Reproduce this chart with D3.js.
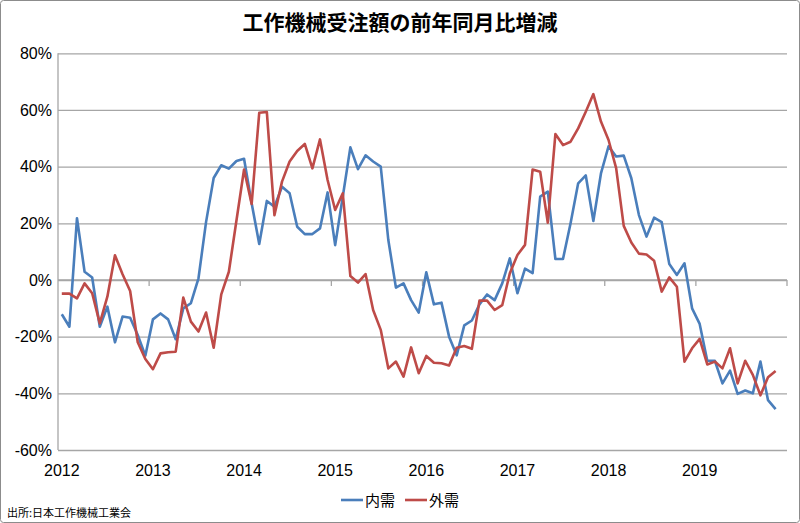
<!DOCTYPE html>
<html><head><meta charset="utf-8">
<script src="https://cdn.jsdelivr.net/npm/d3@7/dist/d3.min.js"></script>
<style>body{margin:0;background:#fff}svg{display:block}</style>
</head><body>
<svg id="c" width="800" height="523"></svg>
<script>
const title = "工作機械受注額の前年同月比増減";
const source = "出所:日本工作機械工業会";
const years = ["2012","2013","2014","2015","2016","2017","2018","2019"];
const yTicks = [-60,-40,-20,0,20,40,60,80];
const seriesNames = ["内需","外需"];
const seriesColors = ["#4a7ebb","#be4b48"];
// Monthly, Jan 2012 – Nov 2019 (% YoY)
const domestic = [-12.1,-16.5,21.8,2.9,0.9,-16.5,-9.4,-22,-12.9,-13.3,-19.4,-26.7,
  -13.9,-11.8,-13.9,-20.9,-10,-8.2,0.6,20.5,36,40.5,39.3,42,
  42.8,27.1,12.7,27.9,25.9,32.9,30.6,18.8,16.2,16.2,18.2,30.9,
  12.3,29.4,46.8,39.1,44,41.8,40,14.1,-2.7,-1.2,-7.1,-11.5,
  2.7,-8.6,-8,-20,-26.6,-16,-14.3,-8.6,-5.1,-7.1,-1.2,7.6,
  -4.7,4,2.4,29.4,31.2,7.4,7.4,20,34.1,36.9,20.8,37.6,
  47.2,43.6,43.9,35.9,22.9,15.3,22,20.4,5.6,1.8,5.9,-10,
  -15.5,-28.5,-28.5,-36.5,-32,-40.2,-39,-40,-28.8,-42.4,-45.6];
const foreign = [-4.8,-4.8,-6.5,-1.2,-4.7,-15.3,-5.9,8.7,2,-3.9,-22,-27.9,
  -31.5,-25.9,-25.5,-25.3,-6.2,-14.7,-18.2,-11.5,-23.9,-5.1,2.9,21,
  39,26.8,59,59.3,22.9,34.7,41.8,45.5,48,39.4,49.6,35.3,
  24.7,30.6,1.4,-0.9,2.1,-10.6,-17.6,-31.2,-28.8,-34.1,-23.8,-32.9,
  -26.8,-29.2,-29.4,-30.2,-23.9,-23.3,-24.3,-7.3,-7.3,-10.6,-8.9,2.4,
  8.8,12.4,39,38.2,20.2,51.5,47.6,48.8,53.5,59.4,65.6,55.9,
  49.4,39.5,19.1,13.2,9.3,9,6.8,-4.1,0.9,-2.4,-28.8,-24.1,
  -20.8,-29.8,-28.8,-31.2,-24.1,-36.5,-28.5,-33.5,-40.7,-34.3,-32.1];

const svg = d3.select("#c");
const W = 800, H = 523;
const L = 58, R = 787, T = 53.3, B = 450;
const totalMonths = years.length * 12;
const x = d3.scaleBand().domain(d3.range(totalMonths)).range([L, R]);
const y = d3.scaleLinear().domain([-60, 80]).range([B, T]);
const num = "'Liberation Sans Narrow','Liberation Sans',Arial,sans-serif";
const jp = "'Noto Sans CJK JP',sans-serif";

svg.append("rect").attr("x",0.5).attr("y",0.5).attr("width",W-1).attr("height",H-1)
  .attr("rx",3).attr("fill","#fff").attr("stroke","#8c8c8c");

svg.append("text").attr("x",400).attr("y",30).attr("text-anchor","middle")
  .attr("font-family",jp).attr("font-weight","bold").attr("font-size",21)
  .attr("fill","#000").text(title);

// gridlines
const yAxis = d3.axisLeft(y).tickValues(yTicks).tickSize(-(R-L)).tickPadding(6)
  .tickFormat(d => d + "%");
const gy = svg.append("g").attr("transform",`translate(${L},0)`).call(yAxis);
gy.select(".domain").remove();
gy.selectAll(".tick line").attr("stroke","#a6a6a6").attr("stroke-width",1.3);
gy.selectAll(".tick text").attr("font-family",num).attr("font-size",16).attr("fill","#000");
svg.append("line").attr("x1",L).attr("x2",L).attr("y1",T).attr("y2",B)
  .attr("stroke","#a6a6a6").attr("stroke-width",1.3);

// x axis at zero
const xa = svg.append("g");
xa.append("line").attr("x1",L).attr("x2",R).attr("y1",y(0)).attr("y2",y(0))
  .attr("stroke","#a6a6a6").attr("stroke-width",1.3);
years.forEach((yr,i)=>{
  const xb = i===0 ? null : x(i*12);
  if (xb!==null) xa.append("line").attr("x1",xb).attr("x2",xb).attr("y1",y(0)).attr("y2",y(0)+6)
    .attr("stroke","#a6a6a6").attr("stroke-width",1.3);
  xa.append("text").attr("x",x(i*12)+x.bandwidth()/2).attr("y",476).attr("text-anchor","middle")
    .attr("font-family",num).attr("font-size",16).attr("fill","#000").text(yr);
});
xa.append("line").attr("x1",R).attr("x2",R).attr("y1",y(0)).attr("y2",y(0)+6)
  .attr("stroke","#a6a6a6").attr("stroke-width",1.3);

const line = d3.line().x((d,i)=>x(i)+x.bandwidth()/2).y(d=>y(d));
[domestic, foreign].forEach((s,k)=>{
  svg.append("path").datum(s).attr("d",line).attr("fill","none")
    .attr("stroke",seriesColors[k]).attr("stroke-width",2.6).attr("stroke-linejoin","round");
});

// legend
const lg = [{x:341},{x:405}];
seriesNames.forEach((n,k)=>{
  svg.append("line").attr("x1",lg[k].x).attr("x2",lg[k].x+22).attr("y1",500).attr("y2",500)
    .attr("stroke",seriesColors[k]).attr("stroke-width",2.6);
  svg.append("text").attr("x",lg[k].x+24).attr("y",506).attr("font-family",jp)
    .attr("font-size",15).attr("fill","#000").text(n);
});

svg.append("text").attr("x",7).attr("y",517).attr("font-family",jp)
  .attr("font-size",11).attr("fill","#000").text(source);
</script>
</body></html>
